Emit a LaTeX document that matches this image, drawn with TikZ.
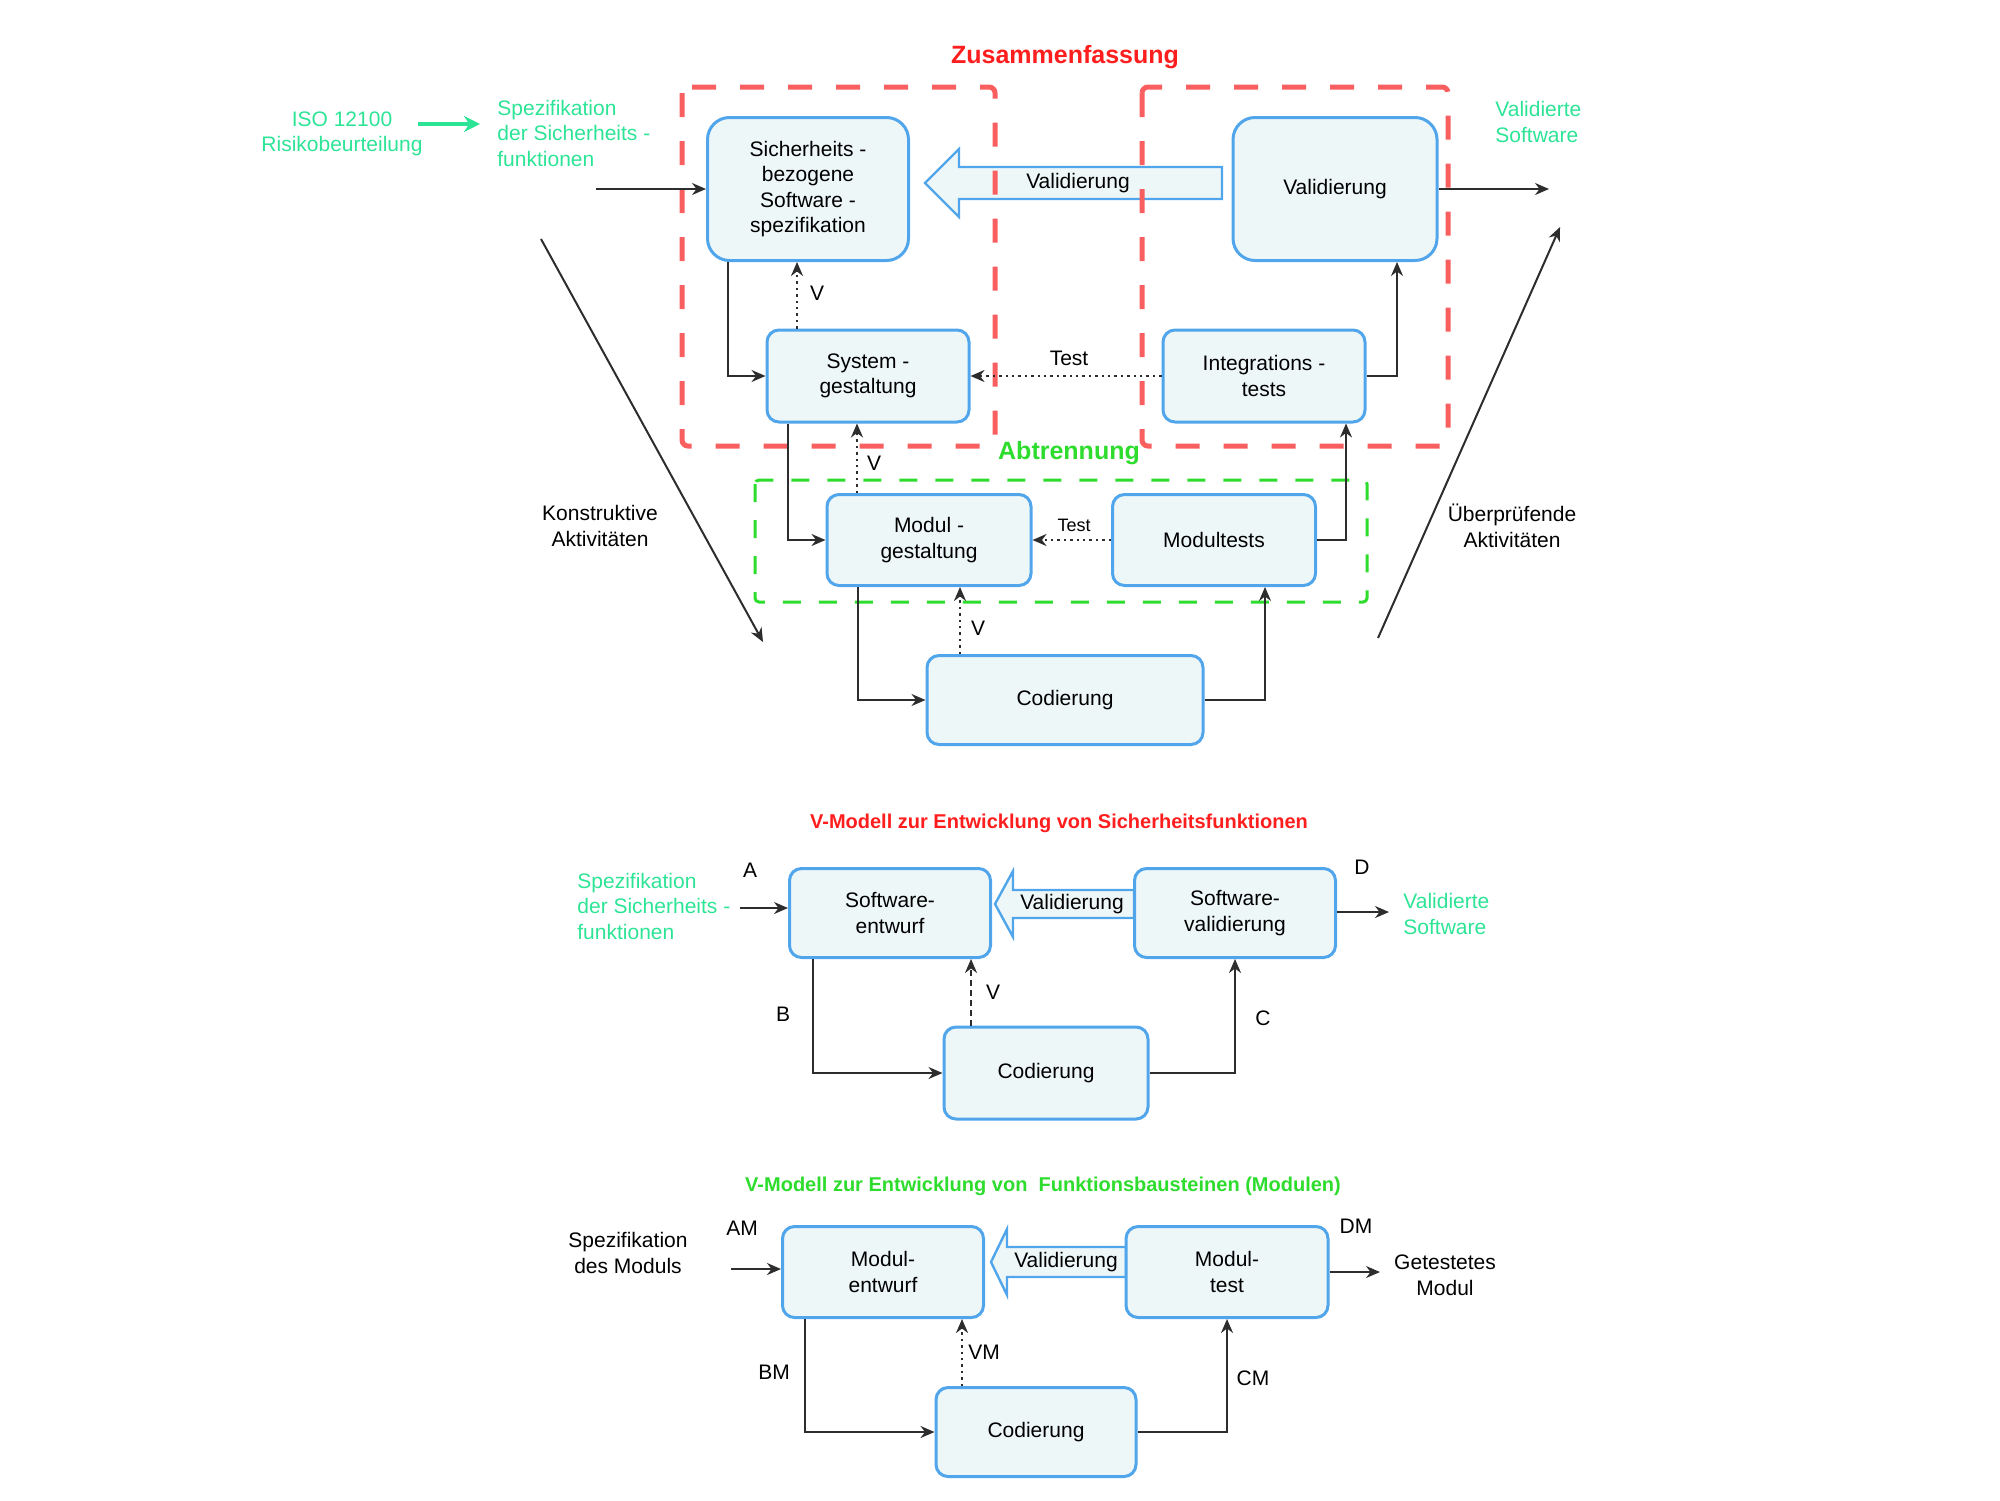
\documentclass[tikz,border=0pt]{standalone}
\usepackage{fontspec}
\setmainfont{Liberation Sans}
\usetikzlibrary{arrows.meta}
\definecolor{boxfill}{RGB}{238,247,248}
\definecolor{boxblue}{RGB}{80,165,235}
\definecolor{tred}{RGB}{255,30,30}
\definecolor{dred}{RGB}{250,95,95}
\definecolor{lime}{RGB}{45,220,45}
\definecolor{mint}{RGB}{45,228,150}
\definecolor{conn}{RGB}{45,45,45}
\newcommand\boxfont{\fontsize{10.5}{12.75}\selectfont}
\newcommand\bigtitlefont{\fontsize{12.5}{14}\selectfont\bfseries}
\newcommand\smalltitlefont{\fontsize{10}{12}\selectfont\bfseries}
\begin{document}
\begin{tikzpicture}[x=0.5pt,y=-0.5pt,
  box/.style={draw=boxblue, fill=boxfill, line width=1.5pt, rounded corners=6pt, align=center, inner sep=2pt, font=\boxfont, text=black},
  lbl/.style={font=\boxfont, text=black, inner sep=1pt},
  txtc/.style={font=\boxfont, align=center, inner sep=0pt},
  txtl/.style={font=\boxfont, align=left, inner sep=0pt, anchor=west},
  cn/.style={draw=conn, line width=1pt, -{Stealth[length=7pt,width=6pt]}},
  vdot/.style={draw=conn, line width=1.2pt, dotted, -{Stealth[length=7pt,width=6pt]}},
  vdash/.style={draw=conn, line width=1pt, dash pattern=on 3pt off 2pt, -{Stealth[length=7pt,width=6pt]}},
  hollow/.style={draw=boxblue, fill=boxfill, line width=1.2pt, line join=miter},
  redframe/.style={draw=dred, line width=2.5pt, dash pattern=on 12pt off 12pt, rounded corners=3pt},
  greenframe/.style={draw=lime, line width=1.5pt, dash pattern=on 9pt off 9pt, rounded corners=2pt}
]
\useasboundingbox (0,0) rectangle (2000,1500);

% ================= TOP =================
\node[font=\bigtitlefont, text=tred] (tZus) at (1065,57) {Zusammenfassung};

% hollow arrow Validierung
\draw[hollow] (925,183) -- (959,149) -- (959,167) -- (1222,167) -- (1222,199) -- (959,199) -- (959,217) -- cycle;
\node[font=\boxfont] (hv1) at (1078,183) {Validierung};

% frames
\draw[redframe] (682,87) rectangle (995,446);
\draw[redframe] (1142,87) rectangle (1448,446);
\draw[greenframe] (755,480) rectangle (1367,602);
\node[font=\bigtitlefont, text=lime] (tAbt) at (1069,453) {Abtrennung};

% boxes
\node[box, minimum width=100.5pt, minimum height=71.5pt, rounded corners=11pt] (b1) at (808,189) {Sicherheits -\\bezogene\\Software -\\spezifikation};
\node[box, minimum width=102pt, minimum height=71.5pt, rounded corners=11pt] (bval) at (1335,189) {Validierung};
\node[box, minimum width=101pt, minimum height=46pt] (bsys) at (868,376) {System -\\gestaltung};
\node[box, minimum width=101pt, minimum height=46pt] (bint) at (1264,376) {Integrations -\\tests};
\node[box, minimum width=102pt, minimum height=45.5pt] (bmod) at (929,540) {Modul -\\gestaltung};
\node[box, minimum width=101.5pt, minimum height=45.5pt] (bmt) at (1214,540) {Modultests};
\node[box, minimum width=138pt, minimum height=44.5pt] (bcod) at (1065,700) {Codierung};

% side texts
\node[txtc, text=mint] (tiso) at (342,134) {ISO 12100\\Risikobeurteilung};
\coordinate (isoA) at (418,124);
\coordinate (isoB) at (480,124);
\draw[draw=mint, line width=2pt, -{Stealth[length=8pt,width=8pt]}] (isoA) -- (isoB);
\node[txtl, text=mint] (tspec1) at (497,133) {Spezifikation\\der Sicherheits -\\funktionen};
\node[txtl, text=mint] (tvs1) at (1495,122) {Validierte\\Software};
\node[txtc] (tkon) at (600,526) {Konstruktive\\Aktivitäten};
\node[txtc] (tueb) at (1512,526) {Überprüfende\\Aktivitäten};

% connectors
\coordinate (in1) at (596,189);
\coordinate (out1) at (1549,189);
\draw[cn] (in1) -- (b1.west);
\draw[cn] (bval.east) -- (out1);
\draw[cn] ([xshift=-40pt]b1.south) |- (bsys.west);
\draw[vdot] ([xshift=-35.5pt]bsys.north) -- ([xshift=-35.5pt]bsys.north |- b1.south);
\node[lbl] (lV1) at (817,293) {V};
\draw[vdot] (bint.west) -- (bsys.east);
\node[lbl] (lT1) at (1069,358) {Test};
\draw[cn] (bint.east) -| ([xshift=31pt]bval.south);
\draw[cn] ([xshift=-40pt]bsys.south) |- (bmod.west);
\draw[vdot] ([xshift=-36pt]bmod.north) -- ([xshift=-36pt]bmod.north |- bsys.south);
\node[lbl] (lV2) at (874,463) {V};
\draw[vdot] (bmt.west) -- (bmod.east);
\node[lbl, font=\fontsize{9}{10}\selectfont] (lT2) at (1074,525) {Test};
\draw[cn] (bmt.east) -| ([xshift=41pt]bint.south);
\draw[cn] ([xshift=-35.5pt]bmod.south) |- (bcod.west);
\draw[vdot] ([xshift=-52.5pt]bcod.north) -- ([xshift=-52.5pt]bcod.north |- bmod.south);
\node[lbl] (lV3) at (978,628) {V};
\draw[cn] (bcod.east) -| ([xshift=25.5pt]bmt.south);

% diagonals
\coordinate (d1s) at (541,239);
\coordinate (d1e) at (763,642);
\coordinate (d2s) at (1378,638);
\coordinate (d2e) at (1560,227);
\draw[cn] (d1s) -- (d1e);
\draw[cn] (d2s) -- (d2e);

% ================= MIDDLE =================
\node[font=\smalltitlefont, text=tred] (tmid) at (1059,823) {V-Modell zur Entwicklung von Sicherheitsfunktionen};
\draw[hollow] (995,904) -- (1013,871) -- (1013,890) -- (1134,890) -- (1134,918) -- (1013,918) -- (1013,937) -- cycle;
\node[font=\boxfont] (hv2) at (1072,904) {Validierung};
\node[box, minimum width=100.5pt, minimum height=44.5pt] (m1) at (890,913) {Software-\\entwurf};
\node[box, minimum width=100.5pt, minimum height=44.5pt] (m2) at (1235,913) {Software-\\validierung};
\node[box, minimum width=102pt, minimum height=46pt] (m3) at (1046,1073) {Codierung};
\node[txtl, text=mint] (tspec2) at (577,906) {Spezifikation\\der Sicherheits -\\funktionen};
\node[txtl, text=mint] (tvs2) at (1403,914) {Validierte\\Software};
\coordinate (in2) at (740,908);
\coordinate (out2) at (1389,912);
\draw[cn] (in2) -- (m1.west |- in2);
\draw[cn] (m2.east |- out2) -- (out2);
\draw[cn] ([xshift=-38.5pt]m1.south) |- (m3.west);
\draw[vdash] ([xshift=-37.5pt]m3.north) -- ([xshift=-37.5pt]m3.north |- m1.south);
\draw[cn] (m3.east) -| (m2.south);
\node[lbl] (lA) at (750,870) {A};
\node[lbl] (lB) at (783,1014) {B};
\node[lbl] (lC) at (1263,1018) {C};
\node[lbl] (lD) at (1362,867) {D};
\node[lbl] (lV4) at (993,992) {V};

% ================= BOTTOM =================
\node[font=\smalltitlefont, text=lime] (tbot) at (1043,1186) {V-Modell zur Entwicklung von\ \ Funktionsbausteinen (Modulen)};
\draw[hollow] (991,1262) -- (1007,1229) -- (1007,1247) -- (1126,1247) -- (1126,1277) -- (1007,1277) -- (1007,1295) -- cycle;
\node[font=\boxfont] (hv3) at (1066,1262) {Validierung};
\node[box, minimum width=100.5pt, minimum height=45.5pt] (n1) at (883,1272) {Modul-\\entwurf};
\node[box, minimum width=101pt, minimum height=45.5pt] (n2) at (1227,1272) {Modul-\\test};
\node[box, minimum width=100pt, minimum height=44.5pt] (n3) at (1036,1432) {Codierung};
\node[txtc] (tspec3) at (628,1253) {Spezifikation\\des Moduls};
\node[txtc] (tget) at (1445,1275) {Getestetes\\Modul};
\coordinate (in3) at (731,1269);
\coordinate (out3) at (1380,1272);
\draw[cn] (in3) -- (n1.west |- in3);
\draw[cn] (n2.east) -- (out3);
\draw[cn] ([xshift=-39pt]n1.south) |- (n3.west);
\draw[vdot] ([xshift=-37pt]n3.north) -- ([xshift=-37pt]n3.north |- n1.south);
\draw[cn] (n3.east) -| (n2.south);
\node[lbl] (lAM) at (742,1228) {AM};
\node[lbl] (lBM) at (774,1372) {BM};
\node[lbl] (lCM) at (1253,1378) {CM};
\node[lbl] (lDM) at (1356,1226) {DM};
\node[lbl] (lVM) at (984,1352) {VM};
\end{tikzpicture}
\end{document}
